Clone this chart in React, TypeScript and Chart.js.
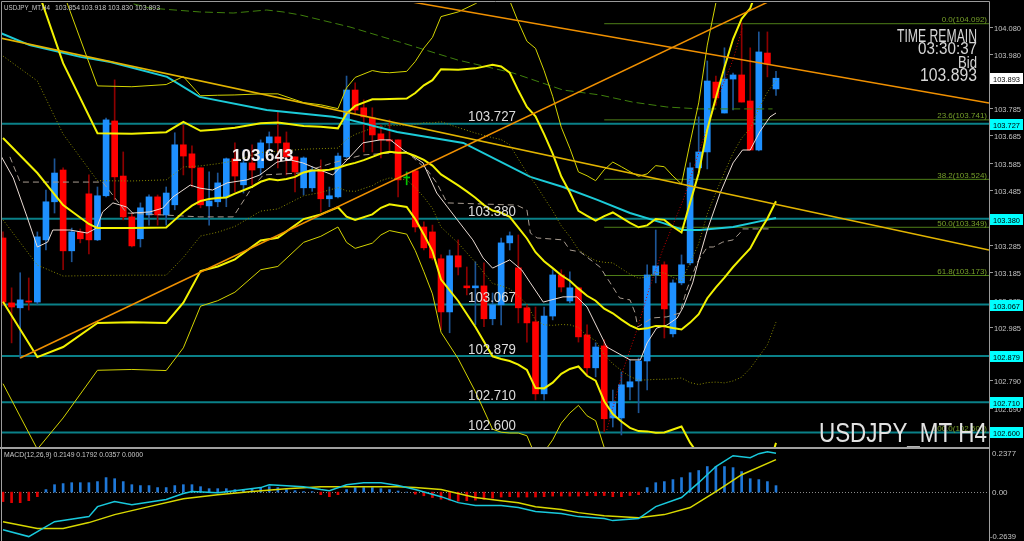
import React, { useEffect, useRef } from "react";
import { Chart, registerables } from "chart.js";
Chart.register(...registerables);

// ---------- candles ----------
const candleOpen = [103.310,103.073,103.055,103.080,103.076,103.303,103.442,103.558,103.263,103.332,
103.471,103.303,103.464,103.737,103.536,103.387,103.307,103.394,103.460,103.394,
103.431,103.650,103.617,103.566,103.427,103.442,103.460,103.599,103.504,103.584,
103.566,103.657,103.679,103.657,103.606,103.493,103.493,103.558,103.453,103.460,
103.606,103.850,103.785,103.748,103.690,103.668,103.668,103.529,103.555,103.350,
103.332,103.234,103.040,103.245,103.135,103.128,103.135,103.015,103.066,103.292,
103.201,103.055,103.004,102.741,103.025,103.175,103.080,103.128,102.956,102.836,
102.916,102.653,102.653,102.766,102.788,102.861,103.175,103.212,102.960,103.146,
103.219,103.566,103.624,103.879,103.766,103.890,103.905,103.810,103.631,103.985,
103.854];
const candleHigh = [103.332,103.128,103.183,103.164,103.332,103.485,103.599,103.566,103.346,103.343,
103.540,103.496,103.748,103.887,103.624,103.401,103.438,103.467,103.467,103.496,
103.694,103.723,103.646,103.566,103.551,103.547,103.602,103.657,103.631,103.650,
103.668,103.697,103.770,103.697,103.606,103.606,103.570,103.595,103.496,103.620,
103.901,103.876,103.814,103.785,103.723,103.741,103.668,103.551,103.555,103.369,
103.357,103.248,103.266,103.303,103.204,103.223,103.219,103.109,103.310,103.332,
103.321,103.066,103.058,103.058,103.194,103.194,103.186,103.131,102.993,102.927,
102.938,102.755,102.821,102.865,102.872,103.212,103.339,103.223,103.157,103.248,
103.584,103.752,103.956,103.901,104.004,103.912,104.095,104.004,104.062,104.062,
103.918];
const candleLow = [103.066,102.927,102.872,103.047,103.066,103.266,103.401,103.194,103.223,103.292,
103.252,103.300,103.460,103.449,103.376,103.277,103.277,103.357,103.357,103.357,
103.413,103.540,103.496,103.420,103.357,103.424,103.424,103.478,103.474,103.504,
103.540,103.620,103.566,103.540,103.478,103.467,103.480,103.405,103.424,103.456,
103.602,103.759,103.624,103.624,103.602,103.631,103.460,103.504,103.332,103.266,
103.230,102.975,102.964,103.175,103.102,102.993,102.986,102.993,102.993,103.266,
103.000,102.930,102.719,102.719,103.011,103.113,103.073,102.930,102.810,102.803,
102.602,102.620,102.591,102.719,102.672,102.755,103.146,102.945,102.949,103.139,
103.212,103.562,103.562,103.795,103.766,103.777,103.806,103.631,103.628,103.898,
103.830];
const candleClose = [103.076,103.058,103.084,103.076,103.314,103.442,103.547,103.263,103.332,103.307,
103.303,103.464,103.741,103.533,103.387,103.281,103.420,103.460,103.394,103.474,
103.650,103.609,103.566,103.431,103.445,103.511,103.599,103.536,103.584,103.558,
103.657,103.679,103.657,103.606,103.551,103.602,103.558,103.453,103.464,103.609,
103.850,103.777,103.752,103.686,103.668,103.664,103.522,103.529,103.350,103.274,
103.237,103.040,103.245,103.204,103.128,103.135,103.015,103.066,103.292,103.318,
103.055,103.000,102.741,103.025,103.175,103.131,103.128,102.949,102.836,102.912,
102.650,102.712,102.774,102.785,102.861,103.175,103.208,103.051,103.146,103.212,
103.566,103.624,103.883,103.821,103.890,103.905,103.806,103.631,103.989,103.945,
103.893];

// ---------- levels ----------
const srLevels = [103.727, 103.380, 103.067, 102.879, 102.710, 102.600];
const fibNames = ["0.0", "23.6", "38.2", "50.0", "61.8", "100.0"];
const fibLevels = [104.092, 103.741, 103.524, 103.349, 103.173, 102.600];
const fibStart = 70;
const priceTicks = [104.080, 103.980, 103.785, 103.685, 103.585, 103.485, 103.285, 103.185, 103.085, 102.985, 102.790, 102.690];
const bidPrice = 103.893;
const markPrice = 103.643;

// ---------- Bollinger (middle line and band half-width samples) ----------
const bbMid = [[0,103.675],[4,103.547],[7,103.430],[10,103.361],[11,103.346],[15,103.346],[19,103.348],[20,103.376],[21,103.404],[22,103.428],[23,103.445],[24,103.452],[25,103.456],[26,103.458],[27,103.472],[28,103.484],[29,103.497],[30,103.515],[31,103.525],[32,103.521],[33,103.525],[34,103.533],[35,103.549],[36,103.556],[37,103.556],[38,103.559],[39,103.566],[40,103.576],[41,103.584],[42,103.594],[43,103.606],[44,103.618],[45,103.625],[46,103.621],[47,103.621],[48,103.609],[49,103.595],[50,103.574],[51,103.542],[52,103.522],[53,103.502],[54,103.480],[55,103.457],[56,103.430],[57,103.410],[58,103.402],[59,103.387],[60,103.348],[61,103.308],[62,103.258],[63,103.225],[64,103.200],[65,103.174],[66,103.154],[67,103.125],[68,103.099],[69,103.081],[70,103.052],[71,103.035],[72,103.012],[73,102.991],[74,102.977],[75,102.980],[76,102.989],[77,102.988],[78,102.981],[79,102.976],[80,103.001],[81,103.032],[82,103.090],[83,103.130],[84,103.165],[85,103.204],[86,103.238],[87,103.272],[88,103.330],[89,103.381],[90,103.444]];
const bbDevIndex = [0,4,7,11,15,19,21,23,25,27,30,32,35,37,39,40,41,43,44,45,47,48,49,50,51,53,55,57,58,59,60,61,62,63,64,65,66,67,68,69,70,71,72,73,74,75,76,77,78,79,80,81,82,83,84,85,86,87,88,89,90];
const bbDev = [0.299,0.336,0.259,0.173,0.172,0.174,0.165,0.128,0.125,0.120,0.107,0.105,0.085,0.080,0.072,0.094,0.104,0.105,0.099,0.096,0.099,0.115,0.136,0.156,0.192,0.211,0.236,0.266,0.267,0.263,0.250,0.240,0.248,0.232,0.209,0.180,0.161,0.142,0.146,0.146,0.169,0.184,0.186,0.187,0.186,0.188,0.195,0.194,0.185,0.177,0.219,0.257,0.308,0.346,0.384,0.416,0.436,0.438,0.453,0.461,0.441];

// ---------- other indicator lines [index, price] ----------
const maWhite = [[-0.3,103.613],[1.2,103.529],[2.8,103.387],[4.0,103.277],[5.2,103.295],[5.8,103.339],[7.8,103.339],[9.8,103.328],[10.9,103.346],[11.6,103.405],[12.8,103.438],[14.4,103.423],[15.1,103.401],[17.1,103.405],[18.6,103.419],[19.8,103.460],[21.8,103.503],[22.9,103.492],[24.4,103.485],[26.1,103.511],[28.4,103.522],[29.9,103.540],[31.9,103.587],[33.4,103.595],[34.9,103.584],[36.9,103.558],[38.4,103.540],[40.4,103.606],[41.9,103.657],[43.9,103.668],[45.1,103.668],[46.6,103.631],[48.9,103.584],[50.5,103.474],[52.9,103.376],[54.7,103.303],[55.9,103.237],[57.0,103.200],[59.0,103.230],[60.4,103.193],[61.4,103.146],[62.9,103.076],[65.2,103.095],[66.8,103.095],[68.0,103.058],[70.3,102.912],[73.0,102.865],[74.2,102.865],[75.0,102.927],[76.1,102.981],[77.3,102.992],[78.5,103.018],[79.2,103.058],[80.3,103.146],[81.1,103.241],[82.0,103.339],[83.5,103.474],[85.0,103.584],[86.1,103.631],[87.0,103.631],[88.1,103.697],[89.3,103.752],[90.0,103.766]];
const kijunTan = [[0.8,103.606],[2.0,103.514],[11.6,103.514],[14.4,103.401],[22.9,103.387],[26.8,103.387],[28.8,103.485],[30.3,103.540],[34.6,103.547],[38.4,103.584],[41.9,103.613],[47.0,103.624],[49.4,103.558],[50.5,103.511],[51.7,103.438],[59.8,103.430],[61.0,103.412],[61.4,103.328],[62.2,103.310],[65.2,103.303],[66.0,103.266],[67.2,103.259],[69.5,103.204],[70.7,103.146],[71.8,103.091],[73.0,103.084],[73.6,103.036],[73.9,102.985],[75.6,103.018],[77.3,103.022],[78.8,103.036],[79.6,103.120],[80.8,103.219],[82.0,103.277],[82.7,103.277],[83.8,103.295],[85.0,103.303],[85.8,103.328],[86.1,103.343],[89.6,103.343]];
const maCyan = [[-0.3,104.058],[3.1,104.014],[9.0,103.971],[12.5,103.952],[19.1,103.898],[22.9,103.825],[30.7,103.777],[38.4,103.752],[40.4,103.741],[45.9,103.697],[53.6,103.657],[61.4,103.533],[65.2,103.496],[69.2,103.449],[73.0,103.401],[76.8,103.365],[79.2,103.339],[81.1,103.339],[85.0,103.350],[88.9,103.376],[90.0,103.383]];
const maGreen = [[12.5,104.186],[17.1,104.149],[22.9,104.135],[26.8,104.131],[30.7,104.142],[32.6,104.135],[34.6,104.124],[40.4,104.080],[46.2,104.025],[52.9,103.960],[59.4,103.912],[65.2,103.850],[69.5,103.832],[73.3,103.806],[77.3,103.788],[81.1,103.781],[85.0,103.781],[89.6,103.781]];
const redDotted = [[70.3,102.609],[72.2,102.828],[73.8,102.974],[75.3,103.131],[76.8,103.266],[79.2,103.449],[81.1,103.631],[83.1,103.814],[85.0,103.960],[86.1,104.080]];
const trendYellow = [[-0.35,104.040],[114.8,103.266]];
const trendOrangeDown = [[46.2,104.179],[114.8,103.803]];
const trendOrangeUp = [[2,102.872],[95,104.260]];

// ---------- MACD ----------
const macdHist = [-0.052,-0.058,-0.058,-0.047,-0.025,0.014,0.041,0.047,0.052,0.052,
0.052,0.058,0.080,0.074,0.058,0.041,0.036,0.036,0.025,0.025,
0.036,0.041,0.041,0.030,0.019,0.019,0.019,0.014,0.014,0.019,
0.025,0.030,0.025,0.014,0.008,0.003,0.003,-0.014,-0.025,-0.014,
0.014,0.025,0.025,0.025,0.019,0.014,0.006,0.0,-0.011,-0.020,
-0.030,-0.039,-0.045,-0.050,-0.047,-0.044,-0.040,-0.033,-0.027,-0.025,
-0.027,-0.027,-0.027,-0.025,-0.022,-0.022,-0.022,-0.022,-0.020,-0.020,
-0.019,-0.025,-0.025,-0.019,-0.014,0.025,0.052,0.058,0.069,0.080,
0.107,0.119,0.141,0.141,0.141,0.135,0.113,0.074,0.069,0.058,0.0357];
const macdMain = [[0,-0.207],[3,-0.245],[6,-0.163],[10,-0.135],[11,-0.080],[13,-0.052],[15,-0.069],[19,-0.041],[21,-0.008],[22,0.003],[25,-0.003],[27,0.008],[30,0.025],[31,0.041],[35,0.030],[37,0.014],[38,0.008],[40,0.041],[42,0.052],[44,0.052],[46,0.036],[48,0.014],[51,-0.025],[53,-0.058],[55,-0.074],[58,-0.074],[60,-0.085],[62,-0.107],[65,-0.118],[67,-0.135],[70,-0.146],[71,-0.157],[74,-0.146],[76,-0.080],[79,-0.030],[81,0.052],[83,0.141],[85,0.201],[87,0.190],[88,0.212],[89,0.222],[90,0.2149]];
const macdSignal = [[0,-0.163],[4,-0.201],[7,-0.201],[10,-0.168],[13,-0.124],[17,-0.080],[21,-0.036],[25,-0.014],[29,0.003],[33,0.019],[37,0.030],[40,0.030],[46,0.030],[48,0.025],[51,0.014],[53,-0.008],[55,-0.030],[58,-0.047],[60,-0.058],[62,-0.080],[65,-0.096],[67,-0.113],[70,-0.130],[74,-0.141],[77,-0.124],[80,-0.085],[83,0.003],[86,0.096],[90,0.1792]];
const macdMax = 0.2377;
const macdMin = -0.2639;

const X_MIN = -0.1164;
const X_MAX = 114.8;
const FONT = '"Liberation Sans", Arial, sans-serif';

function txt(ctx: any, s: string, x: number, y: number, size: number, color: string, align: any = "left", maxW?: number, bold = false) {
  ctx.font = `${bold ? "bold " : ""}${size}px ${FONT}`;
  ctx.fillStyle = color;
  ctx.textAlign = align;
  ctx.textBaseline = "alphabetic";
  if (maxW) ctx.fillText(s, x, y, maxW);
  else ctx.fillText(s, x, y);
}

function lineDs(pts: number[][], color: string, width: number, dash: number[] = [], order = 10) {
  return {
    type: "line",
    data: pts.map(([x, y]) => ({ x, y })),
    borderColor: color,
    borderWidth: width,
    borderDash: dash,
    pointRadius: 0,
    fill: false,
    tension: 0,
    order,
    clip: 0,
  };
}

function midAt(i: number) {
  const m = bbMid.find((p) => p[0] === i);
  return m ? m[1] : NaN;
}
function band(k: number) {
  return bbDevIndex.map((i, j) => [i, midAt(i) + k * bbDev[j]]);
}

const mainOverlay = {
  id: "mainOverlay",
  afterDatasetsDraw(chart: any) {
    const { ctx, scales } = chart;
    const y = scales.y;
    ctx.save();
    ctx.strokeStyle = "#9a9a9a";
    ctx.lineWidth = 1;
    ctx.beginPath();
    ctx.moveTo(1.5, 449); ctx.lineTo(1.5, 1.5); ctx.lineTo(989.5, 1.5); ctx.lineTo(989.5, 449);
    ctx.stroke();

    srLevels.forEach((v) => {
      const py = y.getPixelForValue(v);
      txt(ctx, v.toFixed(3), 468, py - 2.5, 15, "#dcdcdc", "left", 48);
    });
    fibLevels.forEach((v, i) => {
      const py = y.getPixelForValue(v);
      txt(ctx, `${fibNames[i]}(${v.toFixed(3)})`, 987, py - 1.5, 8, "#77a02a", "right");
    });
    txt(ctx, markPrice.toFixed(3), 232, 161, 17, "#f4eded", "left", 65, true);

    txt(ctx, "USDJPY_MT,H4", 4, 9.5, 8, "#c8c8c8", "left", 46);
    const ohlc = ["103.854", "103.918", "103.830", "103.893"];
    [55, 81, 108, 135].forEach((x, i) => txt(ctx, ohlc[i], x, 9.5, 8, "#c8c8c8", "left", 25));

    txt(ctx, "TIME REMAIN", 977, 42, 18, "#d6d6d6", "right", 80);
    txt(ctx, "03:30:37", 977, 53.5, 17, "#d6d6d6", "right", 59);
    txt(ctx, "Bid", 977, 68, 17, "#d6d6d6", "right", 19);
    txt(ctx, bidPrice.toFixed(3), 977, 80.5, 18, "#d6d6d6", "right", 57);

    txt(ctx, "USDJPY_MT H4", 987, 442, 27, "#e2e2e2", "right", 168);

    ctx.strokeStyle = "#9a9a9a";
    priceTicks.forEach((v) => {
      const py = Math.round(y.getPixelForValue(v)) + 0.5;
      ctx.beginPath(); ctx.moveTo(990, py); ctx.lineTo(993, py); ctx.stroke();
      txt(ctx, v.toFixed(3), 994, py + 3, 8, "#c4c4c4", "left", 27);
    });
    srLevels.forEach((v) => {
      const py = y.getPixelForValue(v);
      ctx.fillStyle = "#00ffff";
      ctx.fillRect(990, Math.round(py) - 5, 33, 11);
      txt(ctx, v.toFixed(3), 993, Math.round(py) + 3.5, 8, "#000000", "left", 27);
    });
    {
      const py = y.getPixelForValue(bidPrice);
      ctx.fillStyle = "#ffffff";
      ctx.fillRect(990, Math.round(py) - 5, 33, 11);
      txt(ctx, bidPrice.toFixed(3), 993, Math.round(py) + 3.5, 8, "#000000", "left", 27);
    }
    ctx.restore();
  },
};

const macdOverlay = {
  id: "macdOverlay",
  beforeDatasetsDraw(chart: any) {
    const { ctx, chartArea, scales } = chart;
    const py = Math.round(scales.y.getPixelForValue(0)) + 0.5;
    ctx.save();
    ctx.strokeStyle = "#8a8a8a";
    ctx.setLineDash([1, 2]);
    ctx.lineWidth = 1;
    ctx.beginPath(); ctx.moveTo(chartArea.left, py); ctx.lineTo(chartArea.right, py); ctx.stroke();
    ctx.restore();
  },
  afterDatasetsDraw(chart: any) {
    const { ctx, scales } = chart;
    const y = scales.y;
    ctx.save();
    ctx.strokeStyle = "#a0a0a0";
    ctx.lineWidth = 2;
    ctx.beginPath(); ctx.moveTo(0, 1); ctx.lineTo(990, 1); ctx.stroke();
    ctx.lineWidth = 1;
    ctx.beginPath();
    ctx.moveTo(1.5, 2); ctx.lineTo(1.5, 94);
    ctx.moveTo(989.5, 2); ctx.lineTo(989.5, 94);
    ctx.stroke();
    txt(ctx, "MACD(12,26,9) 0.2149 0.1792 0.0357 0.0000", 4, 10, 8, "#c8c8c8", "left", 139);
    txt(ctx, macdMax.toFixed(4), 992, y.getPixelForValue(macdMax) + 7, 8, "#c4c4c4", "left", 24);
    txt(ctx, "0.00", 992, y.getPixelForValue(0) + 3, 8, "#c4c4c4", "left", 16);
    txt(ctx, macdMin.toFixed(4), 990, y.getPixelForValue(macdMin) - 1, 8, "#c4c4c4", "left", 26);
    ctx.restore();
  },
};

export default function App() {
  const mainRef = useRef<HTMLCanvasElement>(null);
  const macdRef = useRef<HTMLCanvasElement>(null);

  useEffect(() => {
    const idx = candleOpen.map((_, i) => i);
    const BULL = "#1e90ff", BEAR = "#ff0000", DOJI = "#00c800";
    const bodyColors = idx.map((i) => (candleClose[i] > candleOpen[i] ? BULL : candleClose[i] < candleOpen[i] ? BEAR : DOJI));
    const wickColors = idx.map((i) => (candleClose[i] > candleOpen[i] ? "#1d5596" : candleClose[i] < candleOpen[i] ? "#8e0000" : DOJI));

    const srDs = srLevels.map((v) => lineDs([[-1, v], [116, v]], "#0a8088", 2, [], 60));
    const fibDs = fibLevels.map((v) => lineDs([[fibStart, v], [116, v]], "#4f7f18", 1, [], 61));

    const main = new Chart(mainRef.current as HTMLCanvasElement, {
      type: "bar",
      data: {
        datasets: [
          ...srDs,
          ...fibDs,
          {
            type: "bar",
            data: idx.map((i) => ({ x: i, y: [candleLow[i], candleHigh[i]] })),
            backgroundColor: wickColors,
            barThickness: 1,
            grouped: false,
            order: 51,
          },
          {
            type: "bar",
            data: idx.map((i) => ({ x: i, y: [Math.min(candleOpen[i], candleClose[i]), Math.max(candleOpen[i], candleClose[i])] })),
            backgroundColor: bodyColors,
            barThickness: 6,
            minBarLength: 1,
            grouped: false,
            order: 50,
          },
          lineDs(maGreen, "#3f7f0c", 1, [8, 4], 30),
          lineDs(maCyan, "#1ccbd8", 2, [], 29),
          lineDs(band(-1), "#8a8a00", 1, [1, 2], 28),
          lineDs(band(1), "#8a8a00", 1, [1, 2], 28),
          lineDs(band(-3), "#d4d400", 1, [], 27),
          lineDs(band(3), "#d4d400", 1, [], 27),
          lineDs(kijunTan, "#a89c90", 1, [6, 4], 26),
          lineDs(redDotted, "#c80000", 1, [1, 2], 25),
          lineDs(maWhite, "#eadcd4", 1, [], 24),
          lineDs(band(-2), "#f2f200", 2, [], 23),
          lineDs(band(2), "#f2f200", 2, [], 23),
          lineDs(bbMid, "#f2f200", 2, [], 22),
          lineDs(trendYellow, "#e2b400", 1.5, [], 5),
          lineDs(trendOrangeDown, "#f09000", 1.5, [], 5),
          lineDs(trendOrangeUp, "#f09000", 1.5, [], 5),
        ] as any,
      },
      options: {
        responsive: false,
        animation: false,
        devicePixelRatio: 1,
        events: [],
        layout: { padding: { left: 2, top: 3, right: 35, bottom: 2 } },
        plugins: { legend: { display: false }, tooltip: { enabled: false } },
        scales: {
          x: { type: "linear", min: X_MIN, max: X_MAX, offset: false, display: false },
          y: { type: "linear", min: 102.547, max: 104.1676, display: false },
        },
      } as any,
      plugins: [mainOverlay],
    });

    const macd = new Chart(macdRef.current as HTMLCanvasElement, {
      type: "bar",
      data: {
        datasets: [
          {
            type: "bar",
            data: idx.map((i) => ({ x: i, y: macdHist[i] })),
            backgroundColor: idx.map((i) => (macdHist[i] >= 0 ? "#1f78d8" : "#e00000")),
            barThickness: 2,
            grouped: false,
            order: 20,
          },
          lineDs(macdSignal, "#d8d800", 1.5, [], 11),
          lineDs(macdMain, "#19c9dc", 1.5, [], 10),
        ] as any,
      },
      options: {
        responsive: false,
        animation: false,
        devicePixelRatio: 1,
        events: [],
        layout: { padding: { left: 2, top: 2, right: 35, bottom: 1 } },
        plugins: { legend: { display: false }, tooltip: { enabled: false } },
        scales: {
          x: { type: "linear", min: X_MIN, max: X_MAX, offset: false, display: false },
          y: { type: "linear", min: macdMin, max: macdMax, display: false },
        },
      } as any,
      plugins: [macdOverlay],
    });

    return () => {
      main.destroy();
      macd.destroy();
    };
  }, []);

  return (
    <div style={{ position: "fixed", left: 0, top: 0, width: 1024, height: 541, background: "#000", overflow: "hidden" }}>
      <canvas ref={mainRef} width={1024} height={449} style={{ position: "absolute", left: 0, top: 0, width: 1024, height: 449 }} />
      <canvas ref={macdRef} width={1024} height={94} style={{ position: "absolute", left: 0, top: 447, width: 1024, height: 94 }} />
    </div>
  );
}
